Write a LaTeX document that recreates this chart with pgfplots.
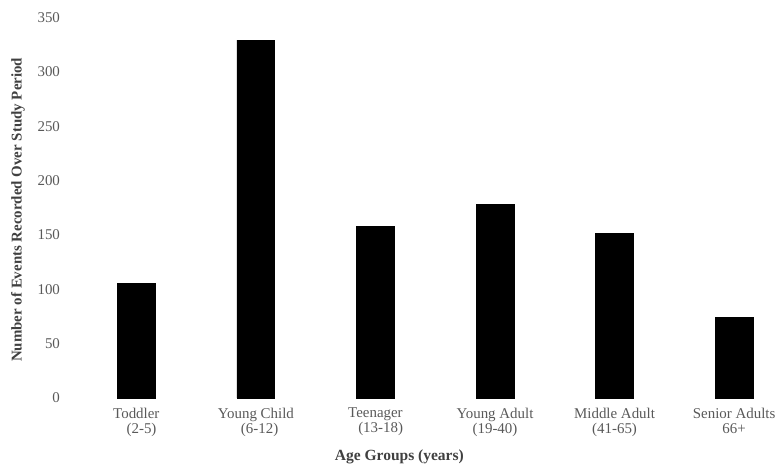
\documentclass[border=0pt]{standalone}
\usepackage{pgfplots}
\pgfplotsset{compat=1.18}
\usepackage{fontspec}
\setmainfont{Liberation Serif}
\definecolor{ticktxt}{HTML}{595959}
\definecolor{labtxt}{HTML}{404040}
\begin{document}
\begin{tikzpicture}
\begin{axis}[
  x=60.1pt, y=0.5465pt,
  xmin=-0.58, xmax=5.36, ymin=0, ymax=355,
  clip=false,
  axis line style={draw=none},
  tick style={draw=none},
  major tick length=0pt,
  ytick={0,50,...,350},
  xtick={0,1,2,3,4,5},
  xticklabels={{Toddler\\\hspace*{0.7em}(2-5)},{Young Child\\\hspace*{0.5em}(6-12)},{Teenager\\\hspace*{0.7em}(13-18)},{Young Adult\\(19-40)},{Middle Adult\\(41-65)},{Senior Adults\\66+}},
  xticklabel style={align=center, font=\fontsize{7.5}{7.6}\selectfont, text=ticktxt, yshift=-1.5pt},
  yticklabel style={font=\fontsize{7.5}{8}\selectfont, text=ticktxt},
  /pgf/number format/assume math mode=true,
  xlabel={Age Groups (years)},
  xlabel style={at={(axis cs:2.2,0)}, anchor=north, inner sep=0pt, yshift=-25.8pt, font=\bfseries\fontsize{7.8}{8}\selectfont, text=labtxt},
  ylabel={Number of Events Recorded Over Study Period},
  ylabel style={at={(axis cs:-0.99,173)}, anchor=center, inner sep=0pt, font=\bfseries\fontsize{7.5}{8}\selectfont, text=labtxt},
]
\addplot[ybar, bar width=19pt, fill=black, draw=black] coordinates {
  (0,105) (1,329) (2,158) (3,178) (4,151) (5,74)
};
\path (axis cs:-1.14,-63) rectangle (axis cs:5.366,366);
\end{axis}
\end{tikzpicture}
\end{document}
